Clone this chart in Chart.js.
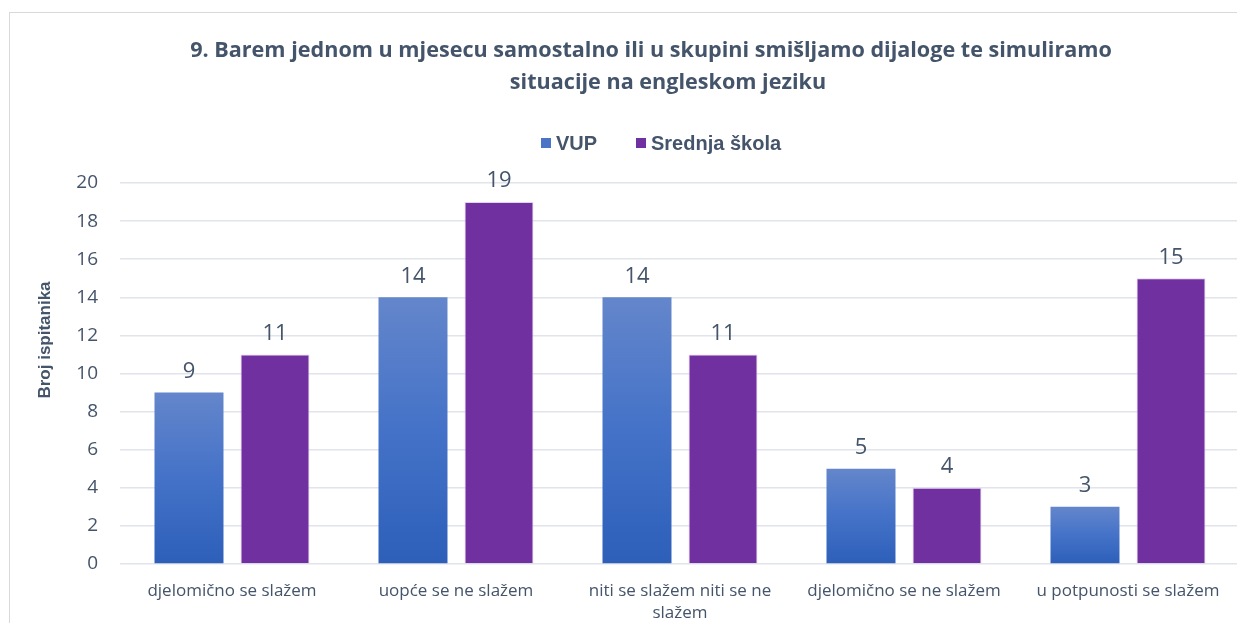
<!DOCTYPE html>
<html>
<head>
<meta charset="utf-8">
<script src="https://cdn.jsdelivr.net/npm/chart.js@4"></script>
<style>
  html, body { margin: 0; padding: 0; background: #fff; overflow: hidden; }
  #wrap { position: relative; width: 1237px; height: 623px; overflow: hidden; }
  #frame { position: absolute; left: 9px; top: 12px; width: 1300px; height: 700px; border: 1px solid #D9D9D9; box-sizing: border-box; }
  #holder { position: absolute; left: 0; top: 0; width: 1262px; height: 623px; }
</style>
</head>
<body>
<div id="wrap">
  <div id="frame"></div>
  <div id="holder"><canvas id="chart"></canvas></div>
</div>
<script>
// Chart data
const categories = [
    'djelomično se slažem',
    'uopće se ne slažem',
    ['niti se slažem niti se ne', 'slažem'],
    'djelomično se ne slažem',
    'u potpunosti se slažem'
];
const vupValues = [9, 14, 14, 5, 3];
const srednjaValues = [11, 19, 11, 4, 15];
const yTicks = [0, 2, 4, 6, 8, 10, 12, 14, 16, 18, 20];

const titleLines = [
    '9. Barem jednom u mjesecu samostalno ili u skupini smišljamo dijaloge te simuliramo',
    'situacije na engleskom jeziku'
];
const yTitle = 'Broj ispitanika';

const textColor = '#44546A';
const purple = '#7030A0';

// per-bar gradient, light at the top, darker at the base
function vupGradient(context) {
    const chart = context.chart;
    const yScale = chart.scales.y;
    if (!chart.chartArea || !yScale || context.dataIndex === undefined) return '#4472C4';
    const top = yScale.getPixelForValue(vupValues[context.dataIndex]);
    const base = yScale.getPixelForValue(0);
    const g = chart.ctx.createLinearGradient(0, top, 0, base);
    g.addColorStop(0, '#6486CB');
    g.addColorStop(0.5, '#4472C8');
    g.addColorStop(1, '#2D5FB9');
    return g;
}

const decorPlugin = {
    id: 'decor',
    afterDatasetsDraw(chart) {
        const ctx = chart.ctx;
        ctx.save();

        // value labels above bars
        ctx.fillStyle = textColor;
        ctx.font = '22px "Open Sans", sans-serif';
        ctx.textAlign = 'center';
        ctx.textBaseline = 'middle';
        chart.data.datasets.forEach((ds, di) => {
            chart.getDatasetMeta(di).data.forEach((bar, i) => {
                ctx.fillText(String(ds.data[i]), bar.x, bar.y - 21);
            });
        });

        // title
        ctx.font = 'bold 21.6px "Open Sans", sans-serif';
        ctx.fillText(titleLines[0], 651, 51);
        ctx.fillText(titleLines[1], 668, 83);

        // legend
        ctx.font = 'bold 20px "Liberation Sans", Arial, sans-serif';
        ctx.textAlign = 'left';
        const legendX = [541, 636];
        chart.data.datasets.forEach((ds, di) => {
            const x = legendX[di];
            ctx.fillStyle = ds.legendColor;
            ctx.fillRect(x, 138, 10, 10);
            ctx.fillStyle = textColor;
            ctx.fillText(ds.label, x + 15, 144);
        });

        // y axis title
        ctx.translate(45, 340);
        ctx.rotate(-Math.PI / 2);
        ctx.textAlign = 'center';
        ctx.font = 'bold 17px "Liberation Sans", Arial, sans-serif';
        ctx.fillText(yTitle, 0, 0);

        ctx.restore();
    }
};

new Chart(document.getElementById('chart'), {
    type: 'bar',
    data: {
        labels: categories,
        datasets: [{
            label: 'VUP',
            data: vupValues,
            backgroundColor: vupGradient,
            legendColor: '#4A75C6',
            borderWidth: 0
        }, {
            label: 'Srednja škola',
            data: srednjaValues,
            backgroundColor: purple,
            legendColor: purple,
            borderColor: 'rgba(225, 205, 240, 0.9)',
            borderWidth: 1
        }]
    },
    options: {
        responsive: true,
        maintainAspectRatio: false,
        animation: false,
        events: [],
        layout: { padding: { top: 183, right: 22, bottom: 0, left: 0 } },
        categoryPercentage: 0.768,
        barPercentage: 0.802,
        plugins: {
            legend: { display: false },
            title: { display: false },
            tooltip: { enabled: false }
        },
        scales: {
            x: {
                grid: { display: false },
                border: { display: false },
                ticks: {
                    color: textColor,
                    font: { family: '"Open Sans", sans-serif', size: 17, lineHeight: 1.25 },
                    padding: 9,
                    maxRotation: 0,
                    autoSkip: false
                },
                afterFit(scale) { scale.height = 59; }
            },
            y: {
                min: 0,
                max: 20,
                afterBuildTicks(scale) {
                    scale.ticks = yTicks.map(v => ({ value: v }));
                },
                grid: { color: '#E1E4EA', lineWidth: 1.5, drawTicks: false },
                border: { display: false },
                ticks: {
                    color: textColor,
                    font: { family: '"Open Sans", sans-serif', size: 19 },
                    padding: 22
                },
                afterFit(scale) { scale.width = 120; }
            }
        }
    },
    plugins: [decorPlugin]
});
</script>
</body>
</html>
